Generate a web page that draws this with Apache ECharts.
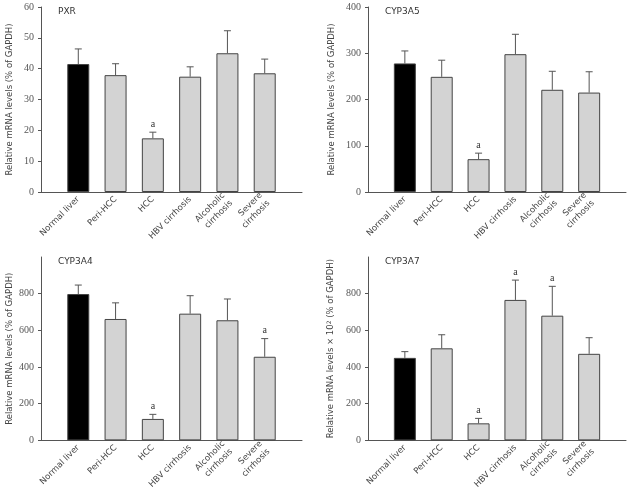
<!DOCTYPE html>
<html><head><meta charset="utf-8">
<script src="https://cdn.jsdelivr.net/npm/echarts@6/dist/echarts.min.js"></script>
<style>html,body{margin:0;padding:0;background:#fff}#c{width:630px;height:492px}</style>
</head><body><div id="c"></div>
<script>
const categories = ['Normal liver', 'Peri-HCC', 'HCC', 'HBV cirrhosis', 'Alcoholic\ncirrhosis', 'Severe\ncirrhosis'];

const pxrMean = [41.5, 37.9, 17.4, 37.4, 45.0, 38.5];
const pxrSD   = [4.9, 3.7, 2.0, 3.2, 7.3, 4.6];
const pxrSig  = [0, 0, 1, 0, 0, 0];

const cyp3a5Mean = [278, 249, 71, 298, 221, 215];
const cyp3a5SD   = [27, 36, 13, 43, 40, 45];
const cyp3a5Sig  = [0, 0, 1, 0, 0, 0];

const cyp3a4Mean = [798, 662, 117, 691, 655, 456];
const cyp3a4SD   = [49, 88, 25, 98, 116, 99];
const cyp3a4Sig  = [0, 0, 1, 0, 0, 1];

const cyp3a7Mean = [450, 502, 93, 766, 680, 472];
const cyp3a7SD   = [34, 74, 27, 108, 160, 88];
const cyp3a7Sig  = [0, 0, 1, 1, 1, 0];

const pxrTicks = [0, 10, 20, 30, 40, 50, 60];
const cyp3a5Ticks = [0, 100, 200, 300, 400];
const cyp3a4Ticks = [0, 200, 400, 600, 800];
const cyp3a7Ticks = [0, 200, 400, 600, 800];

const panels = [
  {title: 'PXR', mean: pxrMean, sd: pxrSD, sig: pxrSig, ticks: pxrTicks, max: 60,
   yname: 'Relative mRNA levels (% of GAPDH)', grid: {left: 41, top: 7, width: 261, height: 185}, nameGap: 27},
  {title: 'CYP3A5', mean: cyp3a5Mean, sd: cyp3a5SD, sig: cyp3a5Sig, ticks: cyp3a5Ticks, max: 400,
   yname: 'Relative mRNA levels (% of GAPDH)', grid: {left: 368, top: 7, width: 258, height: 185}, nameGap: 32},
  {title: 'CYP3A4', mean: cyp3a4Mean, sd: cyp3a4SD, sig: cyp3a4Sig, ticks: cyp3a4Ticks, max: 1000,
   yname: 'Relative mRNA levels (% of GAPDH)', grid: {left: 41, top: 257, width: 261, height: 185}, nameGap: 27},
  {title: 'CYP3A7', mean: cyp3a7Mean, sd: cyp3a7SD, sig: cyp3a7Sig, ticks: cyp3a7Ticks, max: 1000,
   yname: 'Relative mRNA levels × 10{s|2} (% of GAPDH)', grid: {left: 368, top: 257, width: 258, height: 185}, nameGap: 32}
];

const axisCats = [''].concat(categories, ['']);
const txt = '#444';
const sans = 'DejaVu Sans';
const serif = 'Liberation Serif';

const option = {
  animation: false,
  backgroundColor: '#fff',
  title: [], grid: [], xAxis: [], yAxis: [], series: []
};

panels.forEach((p, i) => {
  option.title.push({
    text: p.title, left: p.grid.left + 12, top: p.grid.top - 5,
    textStyle: {fontFamily: sans, fontSize: 9, fontWeight: 'normal', color: '#333'}
  });
  option.grid.push(Object.assign({containLabel: false}, p.grid));
  option.xAxis.push({
    type: 'category', gridIndex: i, data: axisCats, boundaryGap: false,
    axisLine: {lineStyle: {color: '#555', width: 1}},
    axisTick: {show: false},
    axisLabel: {interval: 0, rotate: 45, fontFamily: sans, fontSize: 8.5, color: txt, margin: 6, lineHeight: 11},
    splitLine: {show: false}
  });
  option.yAxis.push({
    type: 'value', gridIndex: i, min: 0, max: p.max, interval: p.ticks[1] - p.ticks[0],
    name: p.yname, nameLocation: 'middle', nameGap: p.nameGap, nameRotate: 90,
    nameTextStyle: {fontFamily: sans, fontSize: 8.5, color: txt,
      rich: {s: {fontFamily: sans, fontSize: 6, verticalAlign: 'top', color: txt, padding: [0, 0, 4, 0]}}},
    axisLine: {show: true, lineStyle: {color: '#555', width: 1}},
    axisTick: {show: true, length: 3, lineStyle: {color: '#555'}, customValues: p.ticks},
    axisLabel: {fontFamily: serif, fontSize: 10, color: '#555', margin: 7, customValues: p.ticks},
    splitLine: {show: false}
  });
  const barData = ['-'].concat(p.mean.map((v, k) => ({
    value: v,
    itemStyle: {color: k === 0 ? '#000' : '#d3d3d3', borderColor: '#444', borderWidth: 1}
  })), ['-']);
  option.series.push({
    type: 'bar', xAxisIndex: i, yAxisIndex: i, data: barData, barWidth: 22, z: 2
  });
  const errData = p.mean.map((v, k) => [k + 1, v, v + p.sd[k], p.sig[k]]);
  option.series.push({
    type: 'custom', xAxisIndex: i, yAxisIndex: i, data: errData, z: 1,
    renderItem: function (params, api) {
      const x = api.value(0);
      const base = api.coord([x, api.value(1)]);
      const top = api.coord([x, api.value(2)]);
      const children = [
        {type: 'line', shape: {x1: base[0], y1: base[1], x2: top[0], y2: top[1]}, style: {stroke: '#555', lineWidth: 1}},
        {type: 'line', shape: {x1: top[0] - 3.5, y1: top[1], x2: top[0] + 3.5, y2: top[1]}, style: {stroke: '#555', lineWidth: 1}}
      ];
      if (api.value(3)) {
        children.push({type: 'text', style: {text: 'a', x: top[0], y: top[1] - 3, align: 'center', verticalAlign: 'bottom',
          fontFamily: serif, fontSize: 10, fill: '#333'}});
      }
      return {type: 'group', children: children};
    }
  });
});

const chart = echarts.init(document.getElementById('c'), null, {renderer: 'canvas'});
chart.setOption(option);
</script>
</body></html>
